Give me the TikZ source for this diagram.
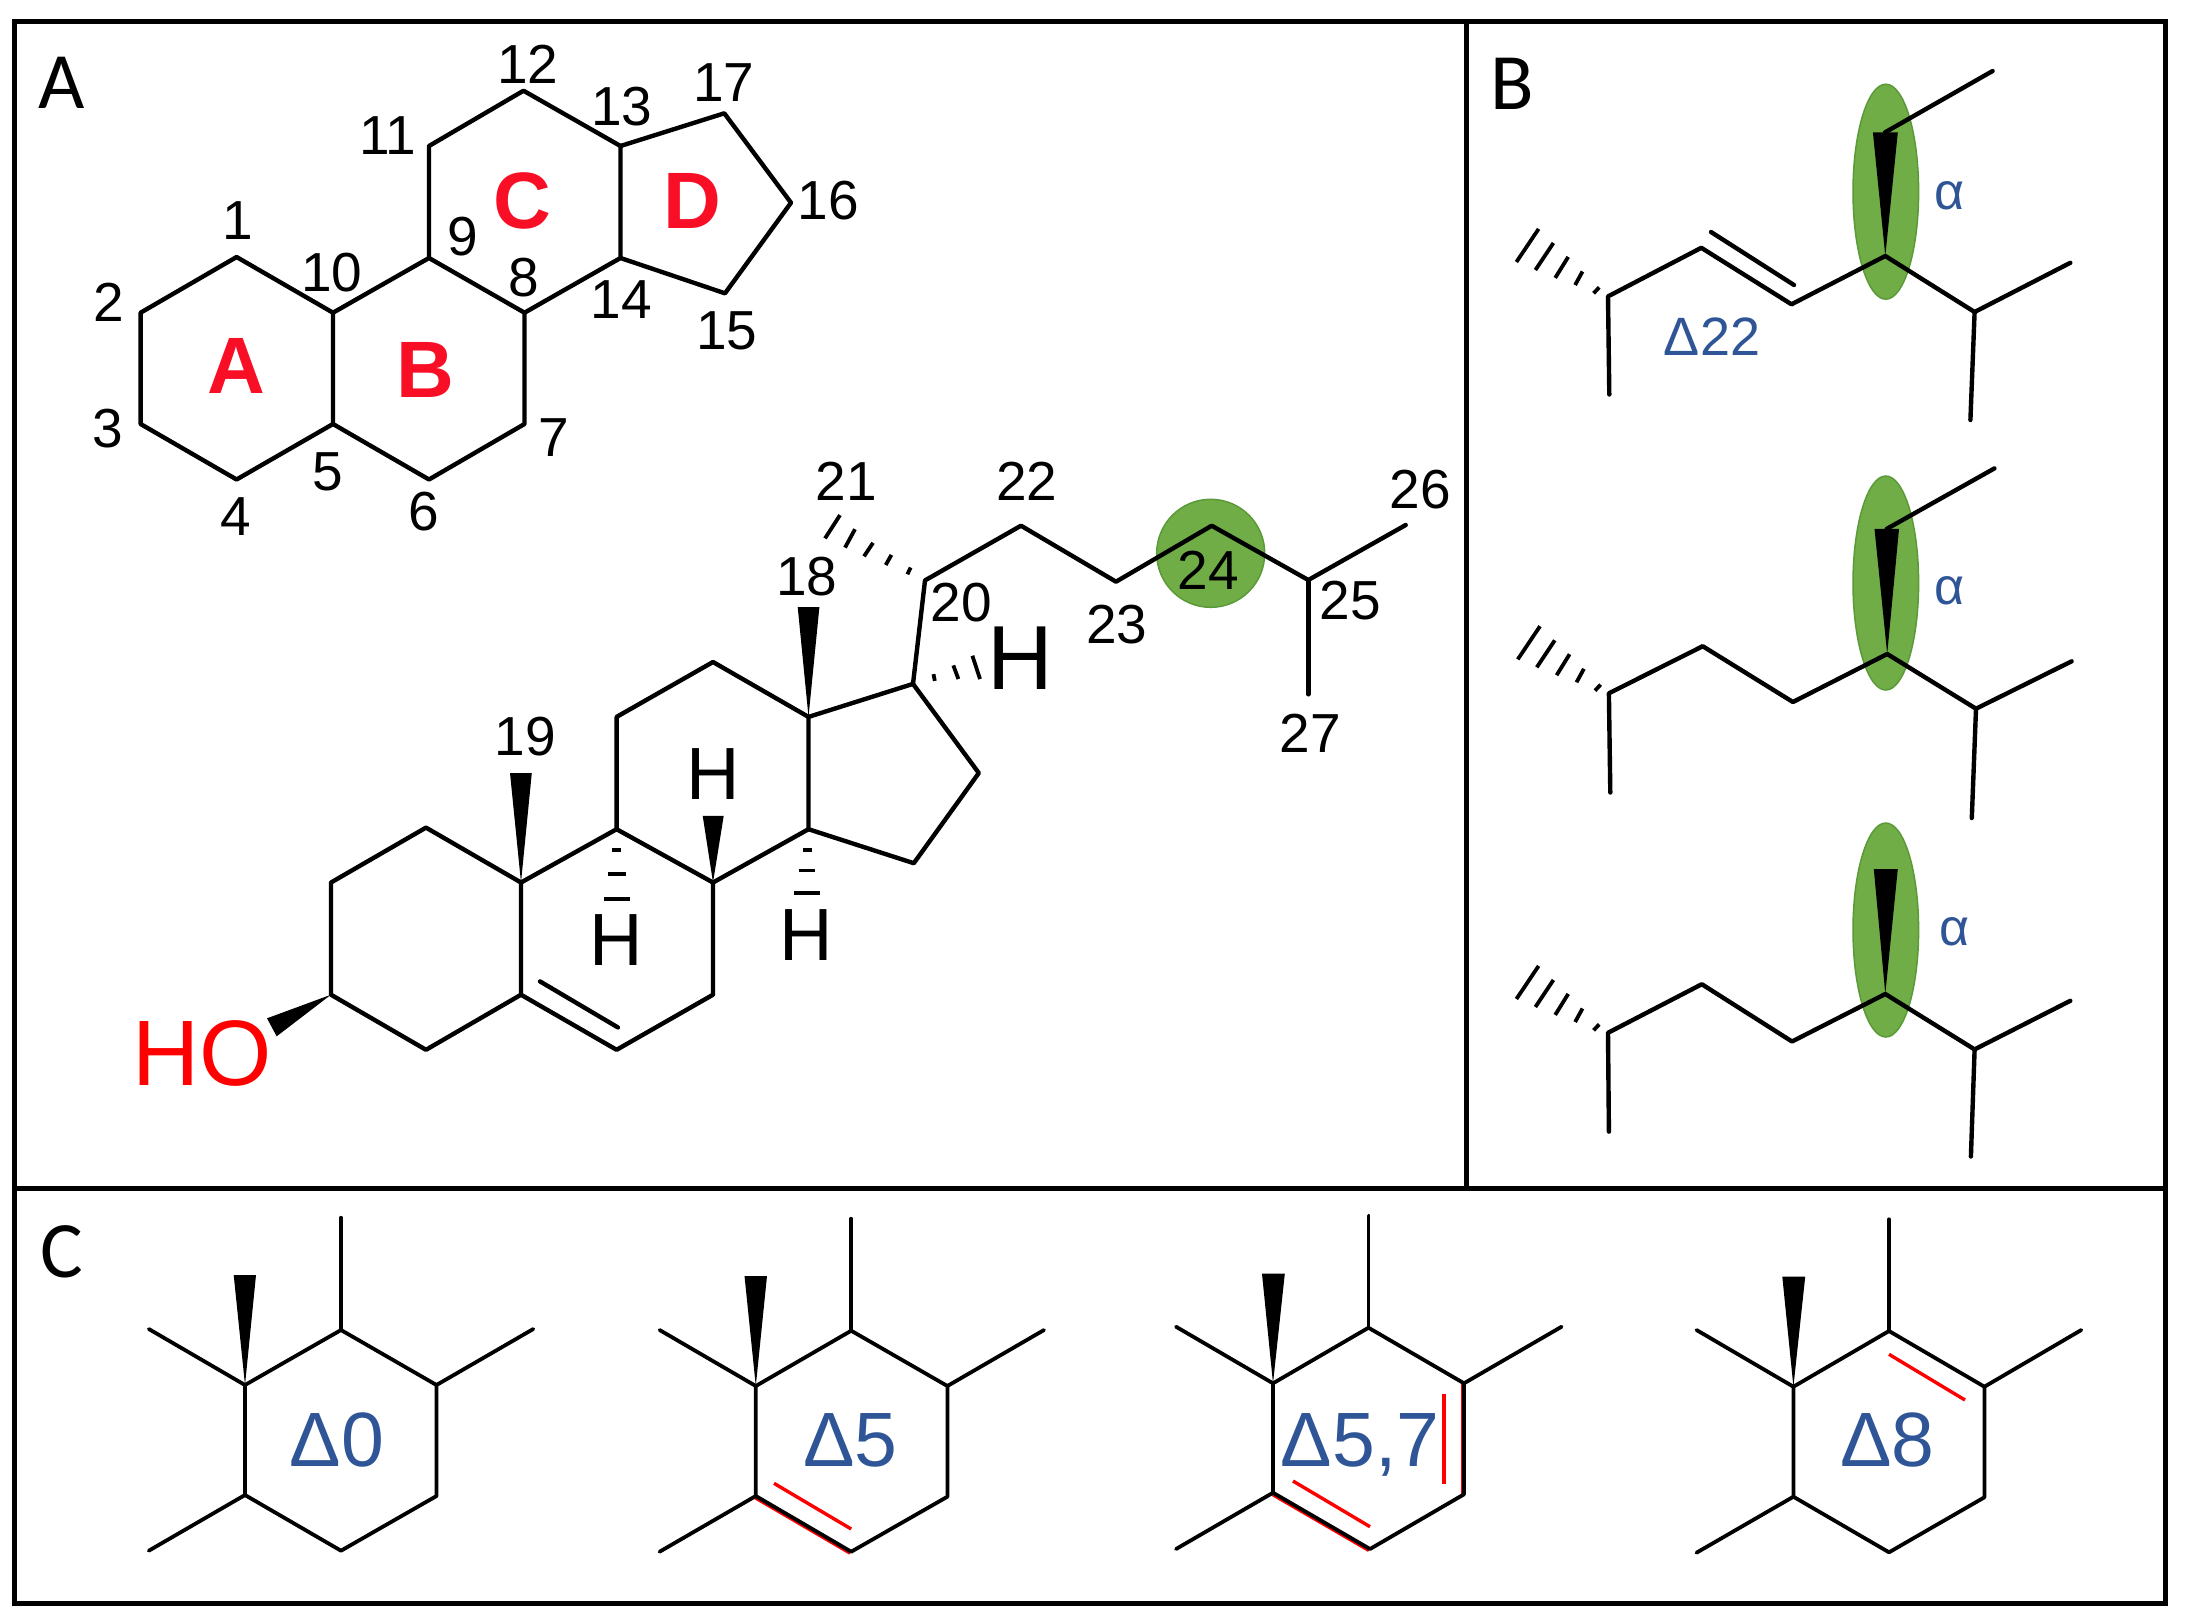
\documentclass[tikz,border=0pt]{standalone}
\usepackage{fontspec}
\usetikzlibrary{shapes.geometric}
\setmainfont{Liberation Sans}
\newfontfamily\panelfont{Carlito}
\definecolor{leaf}{HTML}{70AD47}
\definecolor{leafdark}{HTML}{5B9A38}
\definecolor{deltablue}{HTML}{2F5597}
\definecolor{ringred}{HTML}{F80F26}
\begin{document}
\begin{tikzpicture}[x=1pt,y=-1pt,
  bond/.style={line width=4.4pt,line join=round,line cap=round},
  thinbond/.style={line width=3.8pt,line join=round,line cap=round},
  frame/.style={line width=5pt},
  wedge/.style={fill=black},
  hash/.style={line width=3.8pt},
  redbond/.style={draw=red,line width=3.4pt},
  redthin/.style={draw=red,line width=2pt},
  green/.style={fill=leaf,draw=leafdark,line width=1.5pt},
  num/.style={inner sep=0pt,font=\fontsize{55}{60}\selectfont},
  hatom/.style={inner sep=0pt,font=\fontsize{74}{80}\selectfont},
  ringname/.style={inner sep=0pt,text=ringred,font=\bfseries\fontsize{80}{85}\selectfont},
  panelname/.style={inner sep=0pt,font=\panelfont\fontsize{80}{85}\selectfont},
  deltabig/.style={inner sep=0pt,anchor=base,text=deltablue,font=\fontsize{77}{80}\selectfont},
  deltasmall/.style={inner sep=0pt,anchor=base,text=deltablue,font=\fontsize{54}{56}\selectfont},
  alphaname/.style={inner sep=0pt,anchor=base,text=deltablue,font=\fontsize{52}{54}\selectfont}]
\useasboundingbox (0,0) rectangle (2185,1623);
% panels
\coordinate (f1) at (14,21);
\coordinate (f2) at (2165,1603);
\coordinate (f3) at (1466.5,21);
\coordinate (f4) at (1466.5,1188);
\coordinate (f5) at (14,1188);
\coordinate (f6) at (2165,1188);
\draw[frame] (f1) rectangle (f2);
\draw[frame] (f3) -- (f4);
\draw[frame] (f5) -- (f6);
\node[panelname] (nameA) at (61.6,82.7) {A};
\node[panelname] (nameB) at (1512.5,83.6) {B};
\node[panelname] (nameC) at (62,1251.7) {C};
% numbered skeleton
\coordinate (r1) at (236.6,257);
\coordinate (r2) at (140.6,312.7);
\coordinate (r3) at (140.6,424);
\coordinate (r4) at (236.6,479.5);
\coordinate (r5) at (333,424);
\coordinate (r6) at (429,479.5);
\coordinate (r7) at (524.5,424);
\coordinate (r8) at (524.5,312.7);
\coordinate (r9) at (429,258);
\coordinate (r10) at (333,312.7);
\coordinate (r11) at (429,146);
\coordinate (r12) at (523.5,90.7);
\coordinate (r13) at (620.5,146);
\coordinate (r14) at (620.5,258);
\coordinate (r15) at (725,293.3);
\coordinate (r16) at (791,202.7);
\coordinate (r17) at (724.3,113.3);
\draw[bond] (r1) -- (r2) -- (r3) -- (r4) -- (r5) -- (r10) -- cycle;
\draw[bond] (r5) -- (r6) -- (r7) -- (r8) -- (r9) -- (r10);
\draw[bond] (r9) -- (r11) -- (r12) -- (r13) -- (r14) -- (r8);
\draw[bond] (r13) -- (r17) -- (r16) -- (r15) -- (r14);
\node[ringname] (ringA) at (236.6,365.5) {A};
\node[ringname] (ringB) at (425,370) {B};
\node[ringname] (ringC) at (522.5,201) {C};
\node[ringname] (ringD) at (692,201) {D};
\node[num] (n1) at (237.5,221) {1};
\node[num] (n2) at (109,302) {2};
\node[num] (n3) at (107.6,428.6) {3};
\node[num] (n4) at (236,516.6) {4};
\node[num] (n5) at (328,471.5) {5};
\node[num] (n6) at (424,511.7) {6};
\node[num] (n7) at (554,437.4) {7};
\node[num] (n8) at (523.5,277.5) {8};
\node[num] (n9) at (463,236.5) {9};
\node[num] (n10) at (332,272.5) {10};
\node[num] (n11) at (388,135.5) {11};
\node[num] (n12) at (528,64.3) {12};
\node[num] (n13) at (622,106.4) {13};
\node[num] (n14) at (621.4,299.7) {14};
\node[num] (n15) at (726.7,330.7) {15};
\node[num] (n16) at (828.3,201) {16};
\node[num] (n17) at (724,82.3) {17};
% full molecule
\coordinate (c1) at (426,827.6);
\coordinate (c2) at (331,882.5);
\coordinate (c3) at (331,994.7);
\coordinate (c4) at (426,1049.8);
\coordinate (c5) at (521,994.7);
\coordinate (c6) at (616.6,1049.8);
\coordinate (c7) at (713,994.7);
\coordinate (c8) at (713,882.5);
\coordinate (c9) at (616.6,829.2);
\coordinate (c10) at (521,882.5);
\coordinate (c11) at (616.6,716.9);
\coordinate (c12) at (713,662);
\coordinate (c13) at (808.5,716.9);
\coordinate (c14) at (808.5,829.2);
\coordinate (c15) at (913.8,863.2);
\coordinate (c16) at (978.8,773);
\coordinate (c17) at (913,683.9);
\coordinate (c20) at (925,580.4);
\coordinate (c22) at (1021,525.7);
\coordinate (c23) at (1116,581.7);
\coordinate (c24) at (1211.7,525.7);
\coordinate (c25) at (1308.3,580);
\coordinate (c26) at (1405.7,525);
\coordinate (c27) at (1308.3,694.3);
\coordinate (c56a) at (540,981.4);
\coordinate (c56b) at (617.9,1027.4);
\coordinate (w18a) at (797.7,607);
\coordinate (w18b) at (819.4,607);
\coordinate (w19a) at (510,773);
\coordinate (w19b) at (531.8,773);
\coordinate (w8a) at (702.7,815.8);
\coordinate (w8b) at (723.7,815.8);
\coordinate (w3a) at (267,1018.3);
\coordinate (w3b) at (276.7,1036.3);
\node[circle,green,minimum size=108pt,inner sep=0pt] (spot24) at (1210.7,553.3) {};
\draw[bond] (c1) -- (c2) -- (c3) -- (c4) -- (c5) -- (c10) -- cycle;
\draw[bond] (c5) -- (c6) -- (c7) -- (c8) -- (c9) -- (c10);
\draw[bond] (c9) -- (c11) -- (c12) -- (c13) -- (c14) -- (c8);
\draw[bond] (c13) -- (c17) -- (c16) -- (c15) -- (c14);
\draw[bond] (c17) -- (c20) -- (c22) -- (c23) -- (c24) -- (c25) -- (c26);
\draw[bond] (c25) -- (c27);
\draw[bond] (c56a) -- (c56b);
\fill[wedge] (c13) -- (w18a) -- (w18b) -- cycle;
\fill[wedge] (c10) -- (w19a) -- (w19b) -- cycle;
\fill[wedge] (c8) -- (w8a) -- (w8b) -- cycle;
\fill[wedge] (c3) -- (w3a) -- (w3b) -- cycle;
\draw[hash] (612,850) -- (621,850) (607.5,874.3) -- (626,874.3) (603.5,898.6) -- (630,898.6);
\draw[hash] (803,849.6) -- (812,849.6) (799,870.4) -- (815,870.4) (794,893.2) -- (819.5,893.2);
\draw[hash] (933.5,674.1) -- (934.8,680.9) (953.3,665.4) -- (958.4,679) (972.4,655.7) -- (980,679);
\draw[hash] (907.4,574.3) -- (910.6,567.5) (885.7,565) -- (891.4,554.9) (864,556.3) -- (873,542.8) (845,547.6) -- (855,529.2) (825,538.4) -- (840,515.1);
\node[hatom] (h9) at (616.6,940.2) {H};
\node[hatom] (h14) at (806.6,935.4) {H};
\node[hatom] (h8) at (713.5,774.5) {H};
\node[inner sep=0pt,font=\fontsize{91}{96}\selectfont] (h17) at (1020,658) {H};
\node[inner sep=0pt,text=red,font=\fontsize{93}{100}\selectfont] (ho) at (202,1053.2) {HO};
\node[num] (n18) at (806.6,576.7) {18};
\node[num] (n19) at (525.4,736.7) {19};
\node[num] (n20) at (961,602.4) {20};
\node[num] (n21) at (846,481.2) {21};
\node[num] (n22) at (1026.7,481.7) {22};
\node[num] (n23) at (1116.7,624.3) {23};
\node[num] (n24) at (1208.3,570) {24};
\node[num] (n25) at (1350,601) {25};
\node[num] (n26) at (1420,490) {26};
\node[num] (n27) at (1310,733.3) {27};
% side chains
\node[ellipse,green,minimum width=65.6pt,minimum height=215pt,inner sep=0pt] (spotT) at (1885.8,191.7) {};
\node[ellipse,green,minimum width=65.6pt,minimum height=214pt,inner sep=0pt] (spotM) at (1885.8,583) {};
\node[ellipse,green,minimum width=65.6pt,minimum height=214pt,inner sep=0pt] (spotB) at (1885.8,930) {};
\coordinate (t1) at (1608,296.4);
\coordinate (t2) at (1609.3,394.5);
\coordinate (t3) at (1701.3,247.8);
\coordinate (t4) at (1791.5,304.3);
\coordinate (t5) at (1885.3,256);
\coordinate (t6) at (1974.6,312);
\coordinate (t7) at (2070.3,262.8);
\coordinate (t8) at (1970.4,420);
\coordinate (t9) at (1885,132.4);
\coordinate (t10) at (1992.6,71);
\coordinate (t11) at (1711,232);
\coordinate (t12) at (1794,285);
\coordinate (ta) at (1872.9,132.4);
\coordinate (tb) at (1897.8,132.4);
\draw[bond] (t2) -- (t1) -- (t3) -- (t4) -- (t5) -- (t6) -- (t7);
\draw[bond] (t6) -- (t8);
\draw[bond] (t9) -- (t10);
\draw[bond] (t11) -- (t12);
\fill[wedge] (t5) -- (ta) -- (tb) -- cycle;
\draw[hash] (1593.6,293.3) -- (1599.2,287.3) (1575.1,285) -- (1582.5,271.5) (1555.2,277.9) -- (1568.2,256.9) (1535.4,270) -- (1553.4,243) (1516.4,262) -- (1538.6,228.9);
\node[deltasmall] (d22) at (1712,355.7) {Δ22};
\node[alphaname] (alphaT) at (1950,209.5) {α};
\coordinate (m1) at (1608.9,693.3);
\coordinate (m2) at (1610.3,792.5);
\coordinate (m3) at (1702.7,646.2);
\coordinate (m4) at (1792.9,702);
\coordinate (m5) at (1887.2,654);
\coordinate (m6) at (1976,708.7);
\coordinate (m7) at (2071.6,661.3);
\coordinate (m8) at (1971.8,818);
\coordinate (m9) at (1886.7,528.9);
\coordinate (m10) at (1994.4,468.4);
\coordinate (ma) at (1874.5,528.9);
\coordinate (mb) at (1899,528.9);
\draw[bond] (m2) -- (m1) -- (m3) -- (m4) -- (m5) -- (m6) -- (m7);
\draw[bond] (m6) -- (m8);
\draw[bond] (m9) -- (m10);
\fill[wedge] (m5) -- (ma) -- (mb) -- cycle;
\draw[hash] (1595,690.6) -- (1600.6,684.6) (1576.5,682.3) -- (1583.9,668.8) (1556.6,675.2) -- (1569.6,654.2) (1536.8,667.3) -- (1554.8,640.3) (1517.8,659.3) -- (1540,626.2);
\node[alphaname] (alphaM) at (1950,604.7) {α};
\coordinate (u1) at (1608,1032.8);
\coordinate (u2) at (1608.9,1131.6);
\coordinate (u3) at (1701.8,984.2);
\coordinate (u4) at (1792,1041.5);
\coordinate (u5) at (1885.3,994);
\coordinate (u6) at (1974.6,1049.4);
\coordinate (u7) at (2070.3,1000.8);
\coordinate (u8) at (1970.9,1156.5);
\coordinate (ua) at (1873.8,869);
\coordinate (ub) at (1897.8,869);
\draw[bond] (u2) -- (u1) -- (u3) -- (u4) -- (u5) -- (u6) -- (u7);
\draw[bond] (u6) -- (u8);
\fill[wedge] (u5) -- (ua) -- (ub) -- cycle;
\draw[hash] (1593.6,1030.3) -- (1599.2,1024.3) (1575.1,1022) -- (1582.5,1008.5) (1555.2,1014.9) -- (1568.2,993.9) (1535.4,1007) -- (1553.4,980) (1516.4,999) -- (1538.6,965.9);
\node[alphaname] (alphaB) at (1954.7,945.9) {α};
% ring variants
\coordinate (ptl) at (245,1385);
\coordinate (ptp) at (341,1330);
\coordinate (ptr) at (436.5,1385);
\coordinate (pbr) at (436.5,1496);
\coordinate (pbt) at (341,1550.7);
\coordinate (pbl) at (245,1495);
\coordinate (pa1) at (148.8,1329);
\coordinate (pa2) at (533.3,1329);
\coordinate (pa3) at (148.8,1550.7);
\coordinate (pa4) at (341,1217.7);
\coordinate (pw1) at (233.7,1275);
\coordinate (pw2) at (256,1275);
\draw[thinbond] (ptl) -- (ptp) -- (ptr) -- (pbr) -- (pbt) -- (pbl) -- cycle;
\draw[thinbond] (pa1) -- (ptl);
\draw[thinbond] (pa2) -- (ptr);
\draw[thinbond] (pa3) -- (pbl);
\draw[thinbond] (pa4) -- (ptp);
\fill[wedge] (ptl) -- (pw1) -- (pw2) -- cycle;
\node[deltabig] (d0) at (337,1466) {Δ0};
\coordinate (qtl) at (755.8,1386);
\coordinate (qtp) at (851.2,1330.7);
\coordinate (qtr) at (947.4,1386);
\coordinate (qbr) at (947.4,1496.7);
\coordinate (qbt) at (851.2,1551.7);
\coordinate (qbl) at (755.8,1496);
\coordinate (qa1) at (659.6,1330);
\coordinate (qa2) at (1044,1330);
\coordinate (qa3) at (659.6,1551.7);
\coordinate (qa4) at (851.2,1218.7);
\coordinate (qw1) at (744.5,1276);
\coordinate (qw2) at (767,1276);
\coordinate (qr1) at (774,1483.3);
\coordinate (qr2) at (851.2,1529);
\draw[redthin] ([shift={(-1.5,2)}]qbl) -- ([shift={(-1.5,2)}]qbt);
\draw[thinbond] (qtl) -- (qtp) -- (qtr) -- (qbr) -- (qbt) -- (qbl) -- cycle;
\draw[thinbond] (qa1) -- (qtl);
\draw[thinbond] (qa2) -- (qtr);
\draw[thinbond] (qa3) -- (qbl);
\draw[thinbond] (qa4) -- (qtp);
\fill[wedge] (qtl) -- (qw1) -- (qw2) -- cycle;
\draw[redbond] (qr1) -- (qr2);
\node[deltabig] (d5) at (850.5,1466) {Δ5};
\coordinate (rtl) at (1273,1383.3);
\coordinate (rtp) at (1368.5,1327.7);
\coordinate (rtr) at (1464,1383.3);
\coordinate (rbr) at (1464,1494.3);
\coordinate (rbt) at (1370,1549);
\coordinate (rbl) at (1273,1492.7);
\coordinate (ra1) at (1176,1326.7);
\coordinate (ra2) at (1561.6,1326.7);
\coordinate (ra3) at (1176,1549);
\coordinate (ra4) at (1368.5,1215.7);
\coordinate (rw1) at (1262,1273.7);
\coordinate (rw2) at (1284.8,1273.7);
\coordinate (rr1) at (1293,1481);
\coordinate (rr2) at (1370,1526.7);
\coordinate (rr3) at (1444,1394);
\coordinate (rr4) at (1444,1484);
\draw[redthin] ([shift={(-1.5,2)}]rbl) -- ([shift={(-1.5,2)}]rbt);
\draw[redthin] ([shift={(-2.5,0)}]rtr) -- ([shift={(-2.5,0)}]rbr);
\draw[thinbond] (rtl) -- (rtp) -- (rtr) -- (rbr) -- (rbt) -- (rbl) -- cycle;
\draw[thinbond] (ra1) -- (rtl);
\draw[thinbond] (ra2) -- (rtr);
\draw[thinbond] (ra3) -- (rbl);
\draw[thinbond] (ra4) -- (rtp);
\fill[wedge] (rtl) -- (rw1) -- (rw2) -- cycle;
\draw[redbond] (rr1) -- (rr2);
\draw[redbond] (rr3) -- (rr4);
\node[deltabig] (d57) at (1360,1466) {Δ5,7};
\coordinate (stl) at (1793.4,1386.7);
\coordinate (stp) at (1889,1331);
\coordinate (str) at (1984.4,1386.7);
\coordinate (sbr) at (1984.4,1497.3);
\coordinate (sbt) at (1889,1552.3);
\coordinate (sbl) at (1793.4,1496.7);
\coordinate (sa1) at (1696.5,1330);
\coordinate (sa2) at (2081.3,1330);
\coordinate (sa3) at (1696.5,1552.7);
\coordinate (sa4) at (1889,1219.3);
\coordinate (sw1) at (1782.3,1276.7);
\coordinate (sw2) at (1805.2,1276.7);
\coordinate (sr1) at (1889,1354.3);
\coordinate (sr2) at (1965,1400);
\draw[thinbond] (stl) -- (stp) -- (str) -- (sbr) -- (sbt) -- (sbl) -- cycle;
\draw[thinbond] (sa1) -- (stl);
\draw[thinbond] (sa2) -- (str);
\draw[thinbond] (sa3) -- (sbl);
\draw[thinbond] (sa4) -- (stp);
\fill[wedge] (stl) -- (sw1) -- (sw2) -- cycle;
\draw[redbond] (sr1) -- (sr2);
\node[deltabig] (d8) at (1887.5,1466) {Δ8};
\end{tikzpicture}
\end{document}
